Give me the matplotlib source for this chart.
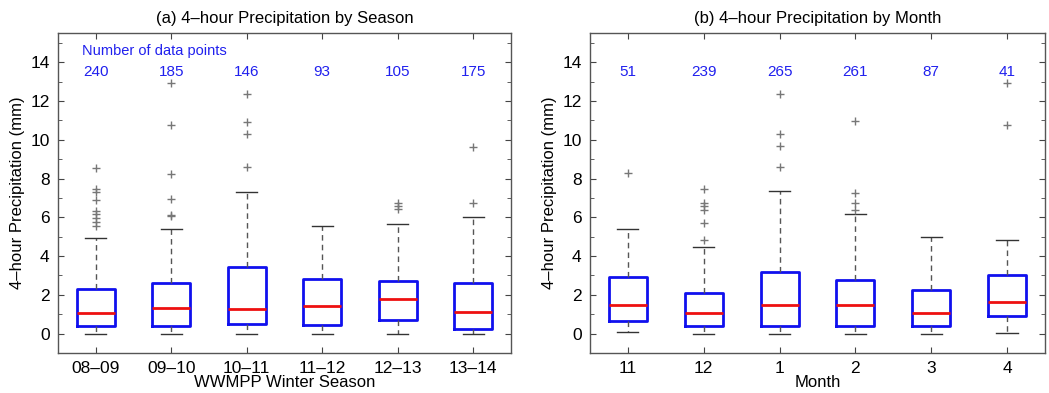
import matplotlib.pyplot as plt
from matplotlib.ticker import MultipleLocator

plt.rcParams['font.family'] = ['Liberation Sans', 'DejaVu Sans']

# (a) by season
seasons = ['08\u201309', '09\u201310', '10\u201311', '11\u201312', '12\u201313', '13\u201314']
season_n = [240, 185, 146, 93, 105, 175]
season_q1 = [0.38, 0.41, 0.51, 0.43, 0.70, 0.22]
season_med = [1.08, 1.30, 1.28, 1.44, 1.79, 1.13]
season_q3 = [2.32, 2.63, 3.42, 2.80, 2.70, 2.60]
season_lo = [0.0, 0.0, 0.0, 0.0, 0.0, 0.0]
season_hi = [4.94, 5.38, 7.32, 5.56, 5.66, 6.03]
season_out = [
    [8.55, 7.45, 7.3, 6.9, 6.3, 6.15, 5.95, 5.75, 5.55],
    [12.9, 10.74, 8.24, 6.96, 6.1, 6.05],
    [12.35, 10.9, 10.3, 8.6],
    [],
    [6.72, 6.58, 6.41],
    [9.62, 6.72],
]

# (b) by month
months = ['11', '12', '1', '2', '3', '4']
month_n = [51, 239, 265, 261, 87, 41]
month_q1 = [0.65, 0.40, 0.40, 0.40, 0.37, 0.91]
month_med = [1.48, 1.08, 1.47, 1.48, 1.05, 1.62]
month_q3 = [2.93, 2.11, 3.19, 2.77, 2.27, 3.04]
month_lo = [0.07, 0.0, 0.0, 0.0, 0.0, 0.05]
month_hi = [5.41, 4.48, 7.38, 6.18, 4.97, 4.85]
month_out = [
    [8.28],
    [7.45, 6.72, 6.58, 6.40, 5.71, 4.83],
    [12.34, 10.28, 9.67, 8.6],
    [10.97, 7.26, 6.72, 6.40],
    [],
    [12.93, 10.76],
]


def draw_panel(ax, labels, n, q1, med, q3, lo, hi, out, title, xlabel, show_note):
    stats = []
    for i in range(len(labels)):
        stats.append({'q1': q1[i], 'med': med[i], 'q3': q3[i],
                      'whislo': lo[i], 'whishi': hi[i], 'fliers': out[i]})
    pos = list(range(1, len(labels) + 1))
    ax.bxp(stats, positions=pos, widths=0.5, capwidths=0.28,
           boxprops=dict(color='#1010ee', lw=2),
           medianprops=dict(color='#ee1010', lw=2),
           whiskerprops=dict(color='#555555', lw=1, ls=(0, (4, 3))),
           capprops=dict(color='#333333', lw=1),
           flierprops=dict(marker='+', markeredgecolor='#777777', markersize=6, mew=1))
    for x, c in zip(pos, n):
        ax.text(x, 13.5, str(c), color='#2020ee', fontsize=11, ha='center', va='center')
    if show_note:
        ax.text(0.82, 14.57, 'Number of data points', color='#2020ee', fontsize=10.5,
                ha='left', va='center')
    ax.set_xlim(0.5, 6.5)
    ax.set_ylim(-1, 15.5)
    ax.set_xticks(pos)
    ax.set_xticklabels(labels, fontsize=12.5)
    ax.yaxis.set_minor_locator(MultipleLocator(1))
    ax.set_yticks(range(0, 15, 2))
    ax.tick_params(axis='both', which='both', direction='in', top=True, right=True,
                   labelsize=12.5, color='#444444')
    ax.tick_params(axis='both', which='major', length=4, pad=6)
    ax.tick_params(axis='y', which='minor', length=3)
    ax.tick_params(axis='x', which='minor', length=0)
    for s in ax.spines.values():
        s.set_color('#555555')
        s.set_linewidth(1)
    ax.set_title(title, fontsize=12, pad=7)
    ax.set_xlabel(xlabel, fontsize=12, labelpad=-1)
    ax.set_ylabel('4\u2013hour Precipitation (mm)', fontsize=12, labelpad=4)


fig = plt.figure(figsize=(10.49, 3.93), dpi=100)
ax1 = fig.add_axes([0.0553, 0.1018, 0.4318, 0.814])
ax2 = fig.add_axes([0.5624, 0.1018, 0.4338, 0.814])

draw_panel(ax1, seasons, season_n, season_q1, season_med, season_q3, season_lo,
           season_hi, season_out, '(a) 4\u2013hour Precipitation by Season',
           'WWMPP Winter Season', True)
draw_panel(ax2, months, month_n, month_q1, month_med, month_q3, month_lo,
           month_hi, month_out, '(b) 4\u2013hour Precipitation by Month',
           'Month', False)

fig.savefig('out.png', dpi=100)
